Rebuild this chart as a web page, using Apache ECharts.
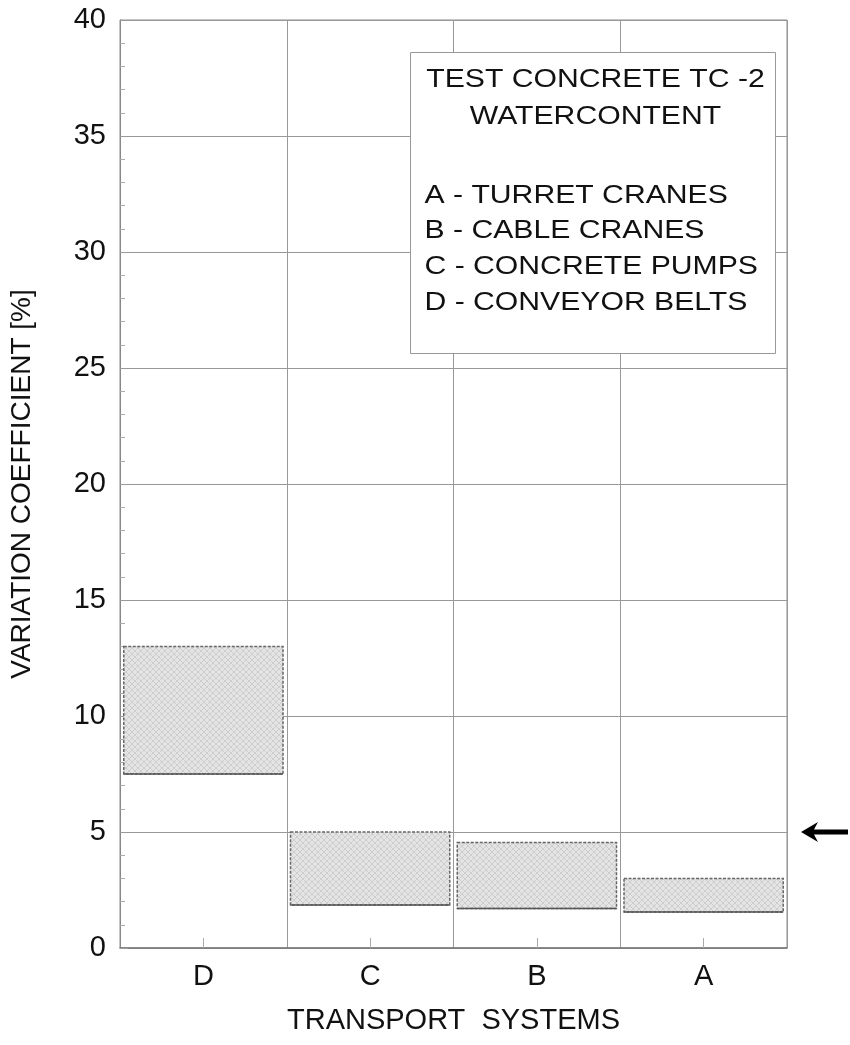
<!DOCTYPE html>
<html>
<head>
<meta charset="utf-8">
<script src="https://cdn.jsdelivr.net/npm/echarts@6/dist/echarts.min.js"></script>
<style>
html,body{margin:0;padding:0;background:#fff;}
#chart{width:850px;height:1045px;}
</style>
</head>
<body>
<div id="chart"></div>
<script>
// Data
const categories = ['D', 'C', 'B', 'A'];
const lowValues  = [7.5, 1.85, 1.7, 1.55];
const highValues = [13.0, 5.0, 4.55, 3.0];
const yTicks = [0, 5, 10, 15, 20, 25, 30, 35, 40];
const legendTitle = ['TEST CONCRETE TC -2', 'WATERCONTENT'];
const legendLines = ['A - TURRET CRANES', 'B - CABLE CRANES', 'C - CONCRETE PUMPS', 'D - CONVEYOR BELTS'];
const markerValue = 5;

const FONT = '"Liberation Sans", Arial, Helvetica, sans-serif';

// hatch texture for the bars
const pat = document.createElement('canvas');
pat.width = 6; pat.height = 6;
(function(){
  const c = pat.getContext('2d');
  c.fillStyle = '#e4e4e4'; c.fillRect(0,0,6,6);
  c.strokeStyle = '#cdcdcd'; c.lineWidth = 1;
  c.beginPath(); c.moveTo(0,6); c.lineTo(6,0); c.stroke();
  c.beginPath(); c.moveTo(0,0); c.lineTo(6,6); c.stroke();
})();

const chart = echarts.init(document.getElementById('chart'), null, {renderer: 'canvas'});

const rangeData = categories.map((c, i) => [i, lowValues[i], highValues[i]]);

const legendTextStyle = {fontSize: 26, fontFamily: FONT, fill: '#111', verticalAlign: 'middle'};

const option = {
  backgroundColor: '#fff',
  animation: false,
  grid: {left: 120, right: 63, top: 20, bottom: 97, show: true, borderColor: '#8a8a8a', borderWidth: 1},
  xAxis: {
    type: 'category',
    data: categories,
    boundaryGap: true,
    axisLine: {show: true, lineStyle: {color: '#777', width: 1.5}},
    axisTick: {show: true, inside: true, alignWithLabel: true, length: 10, lineStyle: {color: '#aaa'}},
    axisLabel: {fontSize: 29, color: '#111', fontFamily: FONT, margin: 14},
    splitLine: {show: true, lineStyle: {color: '#999', width: 1}},
    name: 'TRANSPORT  SYSTEMS',
    nameLocation: 'middle',
    nameGap: 58,
    nameTextStyle: {fontSize: 29, color: '#111', fontFamily: FONT}
  },
  yAxis: {
    type: 'value',
    min: yTicks[0],
    max: yTicks[yTicks.length - 1],
    interval: 5,
    axisLine: {show: true, lineStyle: {color: '#888', width: 1}},
    axisTick: {show: true, inside: true, length: 8, lineStyle: {color: '#999'}},
    minorTick: {show: true, splitNumber: 5, length: 5, lineStyle: {color: '#aaa'}},
    axisLabel: {fontSize: 29, color: '#111', fontFamily: FONT, margin: 14},
    splitLine: {show: true, lineStyle: {color: '#999', width: 1}},
    name: 'VARIATION COEFFICIENT [%]',
    nameLocation: 'middle',
    nameGap: 84,
    nameRotate: 90,
    nameTextStyle: {fontSize: 28, color: '#111', fontFamily: FONT}
  },
  series: [{
    type: 'custom',
    data: rangeData,
    encode: {x: 0, y: [1, 2]},
    renderItem: function (params, api) {
      const idx = api.value(0);
      const lo = api.coord([idx, api.value(1)]);
      const hi = api.coord([idx, api.value(2)]);
      const w = api.size([1, 0])[0] * 0.955;
      const x = lo[0] - w / 2;
      return {
        type: 'group',
        children: [{
          type: 'rect',
          shape: {x: x, y: hi[1], width: w, height: lo[1] - hi[1]},
          style: {fill: {image: pat, repeat: 'repeat'}, stroke: '#666', lineWidth: 1.5, lineDash: [3, 1.5]}
        }, {
          type: 'line',
          shape: {x1: x, y1: lo[1], x2: x + w, y2: lo[1]},
          style: {stroke: '#555', lineWidth: 1.5}
        }]
      };
    },
    z: 5
  }],
  graphic: [
    {
      type: 'group',
      left: 410, top: 52,
      children: [
        {type: 'rect', shape: {x: 0, y: 0, width: 365, height: 301},
         style: {fill: '#fff', stroke: '#999', lineWidth: 1}, z: 10},
        {type: 'text', x: 185, y: 27, z: 11, scaleX: 1.16,
         style: Object.assign({text: legendTitle[0], align: 'center'}, legendTextStyle)},
        {type: 'text', x: 185, y: 64, z: 11, scaleX: 1.16,
         style: Object.assign({text: legendTitle[1], align: 'center'}, legendTextStyle)},
        ...legendLines.map((t, i) => ({
          type: 'text', x: 14, y: 143 + i * 35.8, z: 11, scaleX: 1.16,
          style: Object.assign({text: t, align: 'left'}, legendTextStyle)
        }))
      ]
    }
  ]
};
chart.setOption(option);

// arrow marker pointing at value 5 on the right side
const yPix = chart.convertToPixel({yAxisIndex: 0}, markerValue);
chart.setOption({
  graphic: [{
    type: 'polygon', id: 'arrowHead', z: 20,
    shape: {points: [[801, yPix], [818, yPix - 10], [814, yPix - 2.5], [848, yPix - 2.5], [848, yPix + 2.5], [814, yPix + 2.5], [818, yPix + 10]]},
    style: {fill: '#000'}
  }]
});
</script>
</body>
</html>
